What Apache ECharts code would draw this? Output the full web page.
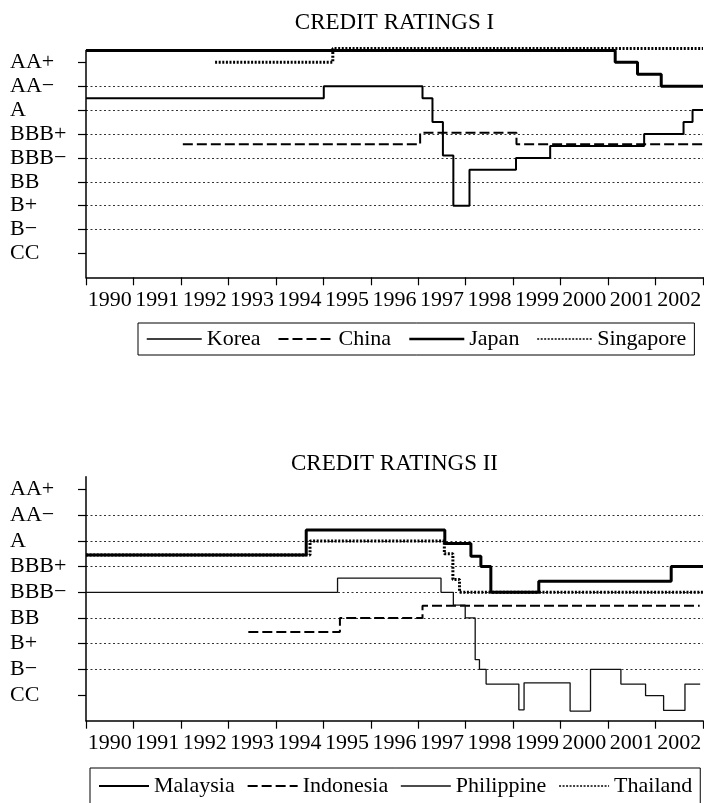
<!DOCTYPE html>
<html>
<head>
<meta charset="utf-8">
<script src="https://cdn.jsdelivr.net/npm/echarts@6/dist/echarts.min.js"></script>
<style>
  html, body { margin: 0; padding: 0; background: #fff; }
  #chart { width: 704px; height: 803px; }
</style>
</head>
<body>
<div id="chart"></div>
<script>
// Year labels along both x axes (each label sits in the middle of its year)
const years = ['1990', '1991', '1992', '1993', '1994', '1995', '1996',
               '1997', '1998', '1999', '2000', '2001', '2002'];

// Rating tick labels, placed on notch values 2, 4, ... 18
const ratingLabels = ['CC', 'B\u2212', 'B+', 'BB', 'BBB\u2212', 'BBB+', 'A', 'AA\u2212', 'AA+'];
const ratingValues = [2, 4, 6, 8, 10, 12, 14, 16, 18];

// Panel I: change dates (fractional years) and rating notches after each change
const koreaDates = [1990, 1995.01, 1997.09, 1997.30, 1997.52, 1997.74, 1998.08, 1999.06, 1999.78, 2001.76, 2002.59, 2002.78, 2003];
const koreaRatings = [15, 16, 15, 13, 10.2, 6, 9, 10, 11, 12, 13, 14, 14];
const chinaDates = [1992.04, 1997.04, 1999.07, 2003];
const chinaRatings = [11.15, 12.1, 11.15, 11.15];
const japanDates = [1990, 2001.15, 2001.62, 2002.12, 2003];
const japanRatings = [19, 18, 17, 16, 16];
const singaporeDates = [1992.72, 1995.2, 2003];
const singaporeRatings = [18, 19.15, 19.15];

// Panel II
const malaysiaDates = [1990, 1994.64, 1997.56, 1998.11, 1998.32, 1998.53, 1999.54, 2002.33, 2003];
const malaysiaRatings = [12.9, 14.85, 13.8, 12.8, 12, 10, 10.85, 12, 12];
const indonesiaDates = [1993.42, 1995.35, 1997.09, 2002.93];
const indonesiaRatings = [6.9, 8, 8.95, 8.95];
const philippineDates = [1990, 1995.3, 1997.48, 1997.74, 1997.99, 1998.2, 1998.29, 1998.43, 1999.12, 1999.23,
                         2000.2, 2000.63, 2001.27, 2001.79, 2002.17, 2002.62, 2002.94];
const philippineRatings = [10, 11.1, 10, 9, 8, 4.75, 4, 2.85, 0.85, 2.95,
                           0.75, 4, 2.85, 1.95, 0.8, 2.85, 2.85];
const thailandDates = [1990, 1994.72, 1997.55, 1997.73, 1997.87, 2003];
const thailandRatings = [12.9, 14, 13, 11, 10, 10];

const FONT = 'Liberation Serif';
const pairs = (dates, vals) => dates.map((d, i) => [d, vals[i]]);

// Shared axis definitions
function xAxisFor(gridIndex) {
  return {
    type: 'value', gridIndex, min: 1990, max: 2003, interval: 1,
    axisLine: { show: true, onZero: false, lineStyle: { color: '#000', width: 1.5 } },
    axisTick: { show: true, length: 8, lineStyle: { color: '#000', width: 1.2 } },
    splitLine: { show: false },
    axisLabel: {
      customValues: years.map(y => Number(y) + 0.5),
      formatter: v => years[Math.floor(v) - 1990],
      margin: 12, fontSize: 22, fontFamily: FONT, color: '#000'
    }
  };
}
function yAxisFor(gridIndex) {
  return {
    type: 'value', gridIndex, min: 0, max: 19, interval: 2,
    axisLine: { show: true, lineStyle: { color: '#000', width: 1.5 } },
    axisTick: { show: true, length: 8, customValues: ratingValues, lineStyle: { color: '#000', width: 1.2 } },
    splitLine: { show: true, showMinLine: false, showMaxLine: false,
                 lineStyle: { color: '#333', width: 1, type: [2, 2.5] } },
    axisLabel: {
      customValues: ratingValues,
      formatter: v => ratingLabels[v / 2 - 1] || '',
      align: 'left', margin: 76, fontSize: 22, fontFamily: FONT, color: '#000'
    }
  };
}

function stepSeries(name, dates, vals, idx, style) {
  return {
    name, type: 'line', step: 'end', xAxisIndex: idx, yAxisIndex: idx,
    data: pairs(dates, vals), symbol: 'none', clip: false,
    lineStyle: Object.assign({ color: '#000', cap: 'butt' }, style),
    itemStyle: { color: '#000' }, emphasis: { disabled: true }, silent: true
  };
}

const DASHED = { width: 2, type: [10, 4] };
const DOTTED = { width: 3, type: [2, 1.6] };
const thinDots = { width: 1.6, type: [2, 1.5] };

const legendBase = {
  orient: 'horizontal', itemHeight: 14,
  borderColor: '#000', borderWidth: 1, borderRadius: 0,
  itemStyle: { opacity: 0 },
  lineStyle: { width: 'inherit' },
  textStyle: { fontSize: 22, fontFamily: FONT, color: '#000' },
  selectedMode: false
};

const option = {
  animation: false,
  backgroundColor: '#fff',
  textStyle: { fontFamily: FONT, color: '#000' },
  title: [
    { text: 'CREDIT RATINGS I', left: 394.5, top: 23.3, padding: 0,
      textAlign: 'center', textVerticalAlign: 'middle',
      textStyle: { fontSize: 23, fontWeight: 'normal', fontFamily: FONT, color: '#000' } },
    { text: 'CREDIT RATINGS II', left: 394.5, top: 464.2, padding: 0,
      textAlign: 'center', textVerticalAlign: 'middle',
      textStyle: { fontSize: 23, fontWeight: 'normal', fontFamily: FONT, color: '#000' } }
  ],
  legend: [
    Object.assign({}, legendBase, {
      data: [{ name: 'Korea', lineStyle: { width: 1.5 } }, 'China',
             { name: 'Japan', lineStyle: { width: 2.5 } }, { name: 'Singapore', lineStyle: thinDots }],
      itemWidth: 55, itemGap: 17, left: 138, top: 323, padding: [5, 8] }),
    Object.assign({}, legendBase, {
      data: [{ name: 'Malaysia', lineStyle: { width: 2 } }, 'Indonesia', 'Philippine',
             { name: 'Thailand', lineStyle: thinDots }],
      itemWidth: 50, itemGap: 12, left: 90, top: 768, padding: [7, 8] })
  ],
  grid: [
    { left: 86, right: 1, top: 50.4, height: 226.9, outerBoundsMode: 'none' },
    { left: 86, right: 1, top: 476.7, height: 244, outerBoundsMode: 'none' }
  ],
  xAxis: [xAxisFor(0), xAxisFor(1)],
  yAxis: [yAxisFor(0), yAxisFor(1)],
  series: [
    stepSeries('Korea', koreaDates, koreaRatings, 0, { width: 2 }),
    stepSeries('China', chinaDates, chinaRatings, 0, DASHED),
    stepSeries('Japan', japanDates, japanRatings, 0, { width: 3 }),
    stepSeries('Singapore', singaporeDates, singaporeRatings, 0, DOTTED),
    stepSeries('Malaysia', malaysiaDates, malaysiaRatings, 1, { width: 3 }),
    stepSeries('Indonesia', indonesiaDates, indonesiaRatings, 1, DASHED),
    stepSeries('Philippine', philippineDates, philippineRatings, 1, { width: 1.3, color: '#111' }),
    stepSeries('Thailand', thailandDates, thailandRatings, 1, DOTTED)
  ]
};

const chart = echarts.init(document.getElementById('chart'), null, { renderer: 'canvas' });
chart.setOption(option);
</script>
</body>
</html>
